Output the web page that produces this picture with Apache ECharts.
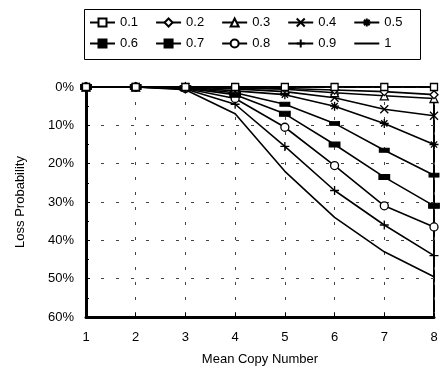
<!DOCTYPE html>
<html>
<head>
<meta charset="utf-8">
<script src="https://cdn.jsdelivr.net/npm/echarts@6/dist/echarts.min.js"></script>
<style>
  html, body { margin: 0; padding: 0; background: #fff; }
  #chart { width: 445px; height: 374px; }
</style>
</head>
<body>
<div id="chart"></div>
<script>
// mean copy number on x
const copyNumbers = [1, 2, 3, 4, 5, 6, 7, 8]
const seriesNames = ['0.1', '0.2', '0.3', '0.4', '0.5', '0.6', '0.7', '0.8', '0.9', '1']

// loss probability in %
const loss01 = [0, 0, 0, 0, 0, 0, 0, 0]
const loss02 = [0, 0, 0, 0.2, 0.4, 0.8, 1.2, 2]
const loss03 = [0, 0, 0, 0.3, 0.6, 1.5, 2.3, 3]
const loss04 = [0, 0, 0, 0.5, 1.2, 2.8, 5.8, 7.5]
const loss05 = [0, 0, 0.1, 1, 2, 5, 9.5, 15]
const loss06 = [0, 0, 0.2, 1.5, 4.5, 9.5, 16.5, 23]
const loss07 = [0, 0, 0.3, 2, 7, 15, 23.5, 31]
const loss08 = [0, 0, 0.4, 3, 10.5, 20.5, 31, 36.5]
const loss09 = [0, 0, 0.5, 4.5, 15.5, 27, 36, 44]
const loss10 = [0, 0, 0.7, 7, 22, 34, 43, 49.5]

const allLoss = [loss01, loss02, loss03, loss04, loss05, loss06, loss07, loss08, loss09, loss10]

const xMark = 'path://M0,0L10,10M10,0L0,10'
const starMark = 'path://M5,0L5,10M0,5L10,5M1.5,1.5L8.5,8.5M8.5,1.5L1.5,8.5'
const plusMark = 'path://M5,0L5,10M0,5L10,5'

// marker look per series
const markers = [
  { symbol: 'rect', size: 7, fill: '#fff' },
  { symbol: 'diamond', size: 8, fill: '#fff' },
  { symbol: 'triangle', size: 8, fill: '#fff' },
  { symbol: xMark, size: 8, fill: 'none' },
  { symbol: starMark, size: 9, fill: 'none' },
  { symbol: 'rect', size: [9, 4], fill: '#000' },
  { symbol: 'rect', size: [10, 5], fill: '#000' },
  { symbol: 'circle', size: 8, fill: '#fff' },
  { symbol: plusMark, size: 9, fill: 'none' },
  { symbol: 'none', size: 0, fill: '#000' },
]

const font = 'Liberation Sans, Arial, sans-serif'

const chart = echarts.init(document.getElementById('chart'))

const series = seriesNames.map((name, i) => ({
  name: name,
  type: 'line',
  data: copyNumbers.map((x, j) => [x, allLoss[i][j]]),
  symbol: markers[i].symbol,
  symbolSize: markers[i].size,
  showAllSymbol: true,
  lineStyle: { color: '#000', width: 1.6 },
  itemStyle: {
    color: markers[i].fill,
    borderColor: '#000',
    borderWidth: 1.3,
  },
  emphasis: { disabled: true },
  animation: false,
  z: 10 - i,
}))

// legend entries; the plain line gets no marker
const legendItems = seriesNames.map((name) =>
  name === '1' ? { name: name, itemStyle: { color: 'none', borderColor: 'none', opacity: 0 } } : { name: name }
)

const legendBase = {
  orient: 'horizontal',
  left: 89,
  padding: 0,
  itemGap: 17,
  itemWidth: 25,
  itemHeight: 10,
  textStyle: { color: '#000', fontSize: 13, fontFamily: font },
  selectedMode: false,
}

const option = {
  backgroundColor: '#fff',
  animation: false,
  graphic: [
    {
      type: 'rect',
      left: 82,
      top: 7,
      shape: { width: 336, height: 50 },
      style: { fill: 'none', stroke: '#000', lineWidth: 1 },
    },
  ],
  legend: [
    Object.assign({}, legendBase, { top: 16, data: legendItems.slice(0, 5) }),
    Object.assign({}, legendBase, { top: 37, data: legendItems.slice(5) }),
  ],
  grid: {
    left: 86,
    right: 11,
    top: 87,
    bottom: 57,
    show: true,
    borderColor: '#000',
    borderWidth: 2,
    outerBoundsMode: 'none',
  },
  xAxis: {
    type: 'value',
    min: 1,
    max: 8,
    interval: 1,
    position: 'bottom',
    name: 'Mean Copy Number',
    nameLocation: 'middle',
    nameGap: 36,
    nameTextStyle: { color: '#000', fontSize: 13, fontFamily: font },
    axisLine: { onZero: false, lineStyle: { color: '#000', width: 3 } },
    axisTick: { inside: true, length: 4, lineStyle: { color: '#000' } },
    axisLabel: { color: '#000', fontSize: 13, fontFamily: font, margin: 14 },
    splitLine: { lineStyle: { color: '#444', width: 1, type: [3, 12] } },
  },
  yAxis: {
    type: 'value',
    inverse: true,
    min: 0,
    max: 60,
    interval: 10,
    name: 'Loss Probability',
    nameLocation: 'middle',
    nameGap: 59,
    nameTextStyle: { color: '#000', fontSize: 13, fontFamily: font },
    axisLine: { show: true, lineStyle: { color: '#000', width: 3 } },
    axisTick: { show: true, inside: true, length: 4, lineStyle: { color: '#000' } },
    minorTick: { show: true, splitNumber: 2, length: 3, lineStyle: { color: '#000' } },
    axisLabel: {
      color: '#000',
      fontSize: 13,
      fontFamily: font,
      margin: 12,
      formatter: '{value}%',
    },
    splitLine: { lineStyle: { color: '#444', width: 1, type: [3, 12] } },
  },
  series: series,
}

chart.setOption(option)
</script>
</body>
</html>
